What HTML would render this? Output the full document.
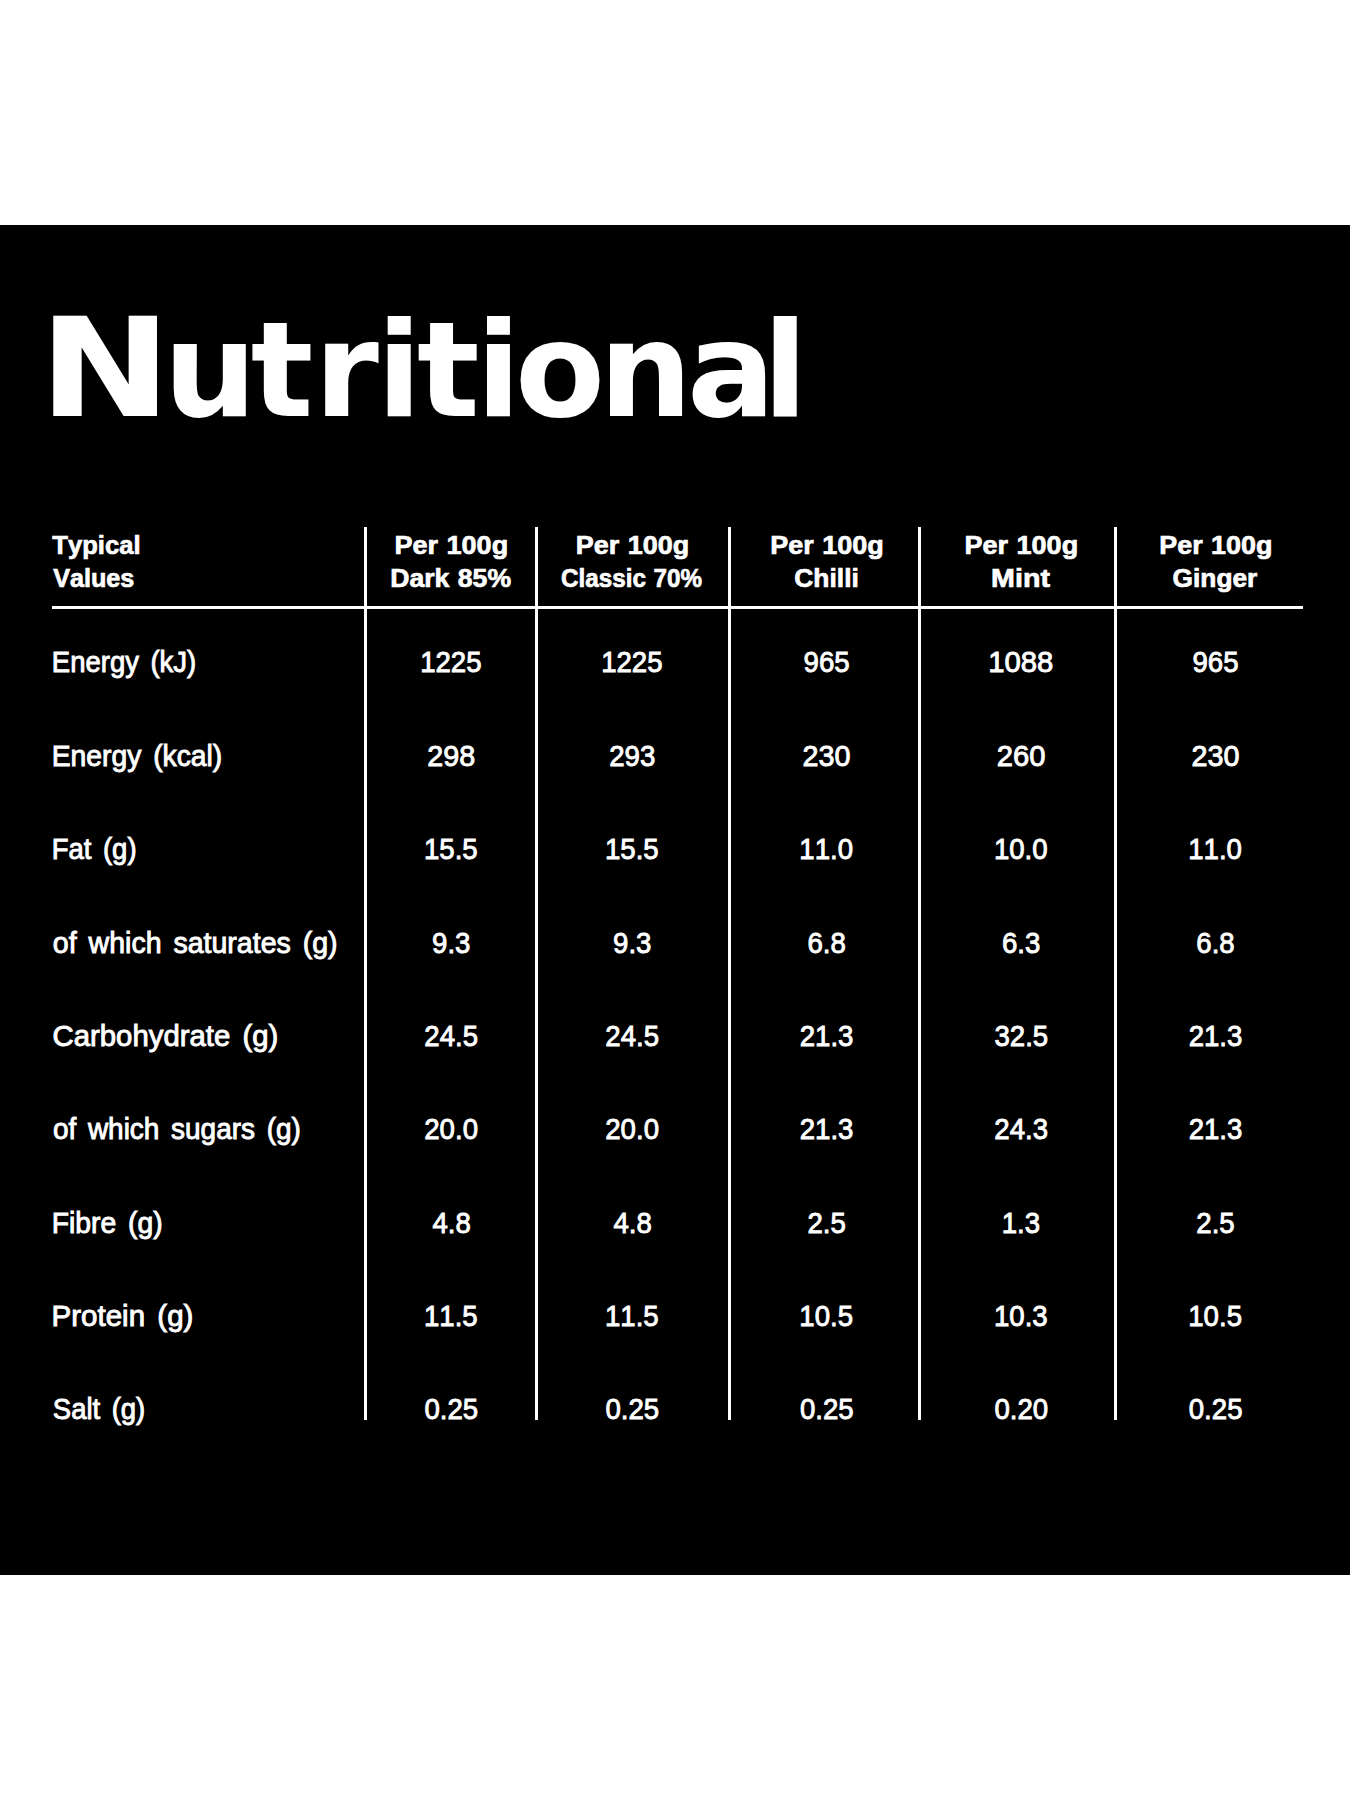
<!DOCTYPE html>
<html lang="en">
<head>
<meta charset="utf-8">
<title>Nutritional</title>
<style>
html,body{margin:0;padding:0;background:#fff;}
body{width:1350px;height:1800px;overflow:hidden;font-family:"Liberation Sans",sans-serif;}
svg{display:block;position:absolute;left:0;top:0;}
text{fill:#fff;font-kerning:none;white-space:pre;}
.t{font-family:"DejaVu Sans","Liberation Sans",sans-serif;font-weight:bold;font-size:131.0px;}
.h{font-family:"Liberation Sans",sans-serif;font-weight:bold;font-size:26.5px;stroke:#fff;stroke-width:0.7px;word-spacing:1.0px;}
.b{font-family:"Liberation Sans",sans-serif;font-weight:normal;font-size:28.6px;stroke:#fff;stroke-width:0.9px;word-spacing:4.0px;}
.n{font-family:"Liberation Sans",sans-serif;font-weight:normal;font-size:29.5px;stroke:#fff;stroke-width:0.9px;}
</style>
</head>
<body>
<svg width="1350" height="1800" viewBox="0 0 1350 1800">
<rect x="0" y="0" width="1350" height="1800" fill="#fff"/>
<rect x="0" y="225" width="1350" height="1350" fill="#000"/>
<g fill="#fff" shape-rendering="crispEdges">
<rect x="364" y="527" width="3" height="893"/>
<rect x="535" y="527" width="3" height="893"/>
<rect x="728" y="527" width="3" height="893"/>
<rect x="918" y="527" width="3" height="893"/>
<rect x="1114" y="527" width="3" height="893"/>
<rect x="52" y="606" width="1251" height="3"/>
</g>
<text class="t" y="416"><tspan x="38.7" font-size="137" textLength="132.8" lengthAdjust="spacingAndGlyphs">N</tspan><tspan x="163.4 250.8 314.2 376.7 417.1 476.0 515.0 598.9 687.0 762.7">utritional</tspan></text>
<text class="h" x="52.36" y="553.65" textLength="88.20" lengthAdjust="spacingAndGlyphs">Typical</text>
<text class="h" x="53.18" y="586.65" textLength="81.10" lengthAdjust="spacingAndGlyphs">Values</text>
<text class="h" x="394.54" y="553.65" textLength="113.61" lengthAdjust="spacingAndGlyphs">Per 100g</text>
<text class="h" x="390.27" y="586.65" textLength="120.78" lengthAdjust="spacingAndGlyphs">Dark 85%</text>
<text class="h" x="575.85" y="553.65" textLength="113.30" lengthAdjust="spacingAndGlyphs">Per 100g</text>
<text class="h" x="561.06" y="586.65" textLength="140.93" lengthAdjust="spacingAndGlyphs">Classic 70%</text>
<text class="h" x="770.25" y="553.65" textLength="113.51" lengthAdjust="spacingAndGlyphs">Per 100g</text>
<text class="h" x="794.27" y="586.65" textLength="64.55" lengthAdjust="spacingAndGlyphs">Chilli</text>
<text class="h" x="964.54" y="553.65" textLength="113.61" lengthAdjust="spacingAndGlyphs">Per 100g</text>
<text class="h" x="991.13" y="586.65" textLength="58.87" lengthAdjust="spacingAndGlyphs">Mint</text>
<text class="h" x="1159.25" y="553.65" textLength="113.20" lengthAdjust="spacingAndGlyphs">Per 100g</text>
<text class="h" x="1172.57" y="586.65" textLength="84.78" lengthAdjust="spacingAndGlyphs">Ginger</text>
<text class="b" x="51.79" y="672.45" textLength="144.46" lengthAdjust="spacingAndGlyphs">Energy (kJ)</text>
<text class="b" x="51.73" y="765.81" textLength="170.57" lengthAdjust="spacingAndGlyphs">Energy (kcal)</text>
<text class="b" x="51.80" y="859.17" textLength="84.76" lengthAdjust="spacingAndGlyphs">Fat (g)</text>
<text class="b" x="52.85" y="952.53" textLength="284.77" lengthAdjust="spacingAndGlyphs">of which saturates (g)</text>
<text class="b" x="52.56" y="1045.89" textLength="225.81" lengthAdjust="spacingAndGlyphs">Carbohydrate (g)</text>
<text class="b" x="52.88" y="1139.25" textLength="248.01" lengthAdjust="spacingAndGlyphs">of which sugars (g)</text>
<text class="b" x="51.73" y="1232.61" textLength="110.98" lengthAdjust="spacingAndGlyphs">Fibre (g)</text>
<text class="b" x="51.63" y="1325.97" textLength="141.75" lengthAdjust="spacingAndGlyphs">Protein (g)</text>
<text class="b" x="52.80" y="1419.33" textLength="92.45" lengthAdjust="spacingAndGlyphs">Salt (g)</text>
<text class="n" x="420.13" y="672.45" textLength="61.40" lengthAdjust="spacingAndGlyphs">1225</text>
<text class="n" x="601.13" y="672.45" textLength="61.40" lengthAdjust="spacingAndGlyphs">1225</text>
<text class="n" x="803.61" y="672.45" textLength="46.05" lengthAdjust="spacingAndGlyphs">965</text>
<text class="n" x="988.22" y="672.45" textLength="65.21" lengthAdjust="spacingAndGlyphs">1088</text>
<text class="n" x="1192.51" y="672.45" textLength="46.05" lengthAdjust="spacingAndGlyphs">965</text>
<text class="n" x="427.20" y="765.81" textLength="48.00" lengthAdjust="spacingAndGlyphs">298</text>
<text class="n" x="609.19" y="765.81" textLength="46.05" lengthAdjust="spacingAndGlyphs">293</text>
<text class="n" x="802.55" y="765.81" textLength="47.97" lengthAdjust="spacingAndGlyphs">230</text>
<text class="n" x="996.78" y="765.81" textLength="48.71" lengthAdjust="spacingAndGlyphs">260</text>
<text class="n" x="1191.45" y="765.81" textLength="47.97" lengthAdjust="spacingAndGlyphs">230</text>
<text class="n" x="423.97" y="859.17" textLength="53.72" lengthAdjust="spacingAndGlyphs">15.5</text>
<text class="n" x="604.97" y="859.17" textLength="53.72" lengthAdjust="spacingAndGlyphs">15.5</text>
<text class="n" x="799.33" y="859.17" textLength="53.72" lengthAdjust="spacingAndGlyphs">11.0</text>
<text class="n" x="993.93" y="859.17" textLength="53.72" lengthAdjust="spacingAndGlyphs">10.0</text>
<text class="n" x="1188.23" y="859.17" textLength="53.72" lengthAdjust="spacingAndGlyphs">11.0</text>
<text class="n" x="432.07" y="952.53" textLength="38.37" lengthAdjust="spacingAndGlyphs">9.3</text>
<text class="n" x="613.07" y="952.53" textLength="38.37" lengthAdjust="spacingAndGlyphs">9.3</text>
<text class="n" x="807.41" y="952.53" textLength="38.37" lengthAdjust="spacingAndGlyphs">6.8</text>
<text class="n" x="1002.02" y="952.53" textLength="38.37" lengthAdjust="spacingAndGlyphs">6.3</text>
<text class="n" x="1196.31" y="952.53" textLength="38.37" lengthAdjust="spacingAndGlyphs">6.8</text>
<text class="n" x="424.32" y="1045.89" textLength="53.72" lengthAdjust="spacingAndGlyphs">24.5</text>
<text class="n" x="605.32" y="1045.89" textLength="53.72" lengthAdjust="spacingAndGlyphs">24.5</text>
<text class="n" x="799.75" y="1045.89" textLength="53.72" lengthAdjust="spacingAndGlyphs">21.3</text>
<text class="n" x="994.49" y="1045.89" textLength="53.72" lengthAdjust="spacingAndGlyphs">32.5</text>
<text class="n" x="1188.65" y="1045.89" textLength="53.72" lengthAdjust="spacingAndGlyphs">21.3</text>
<text class="n" x="424.28" y="1139.25" textLength="53.72" lengthAdjust="spacingAndGlyphs">20.0</text>
<text class="n" x="605.28" y="1139.25" textLength="53.72" lengthAdjust="spacingAndGlyphs">20.0</text>
<text class="n" x="799.75" y="1139.25" textLength="53.72" lengthAdjust="spacingAndGlyphs">21.3</text>
<text class="n" x="994.35" y="1139.25" textLength="53.72" lengthAdjust="spacingAndGlyphs">24.3</text>
<text class="n" x="1188.65" y="1139.25" textLength="53.72" lengthAdjust="spacingAndGlyphs">21.3</text>
<text class="n" x="432.40" y="1232.61" textLength="38.37" lengthAdjust="spacingAndGlyphs">4.8</text>
<text class="n" x="613.40" y="1232.61" textLength="38.37" lengthAdjust="spacingAndGlyphs">4.8</text>
<text class="n" x="807.40" y="1232.61" textLength="38.37" lengthAdjust="spacingAndGlyphs">2.5</text>
<text class="n" x="1001.67" y="1232.61" textLength="38.37" lengthAdjust="spacingAndGlyphs">1.3</text>
<text class="n" x="1196.30" y="1232.61" textLength="38.37" lengthAdjust="spacingAndGlyphs">2.5</text>
<text class="n" x="423.97" y="1325.97" textLength="53.72" lengthAdjust="spacingAndGlyphs">11.5</text>
<text class="n" x="604.97" y="1325.97" textLength="53.72" lengthAdjust="spacingAndGlyphs">11.5</text>
<text class="n" x="799.37" y="1325.97" textLength="53.72" lengthAdjust="spacingAndGlyphs">10.5</text>
<text class="n" x="993.99" y="1325.97" textLength="53.72" lengthAdjust="spacingAndGlyphs">10.3</text>
<text class="n" x="1188.27" y="1325.97" textLength="53.72" lengthAdjust="spacingAndGlyphs">10.5</text>
<text class="n" x="424.48" y="1419.33" textLength="53.72" lengthAdjust="spacingAndGlyphs">0.25</text>
<text class="n" x="605.48" y="1419.33" textLength="53.72" lengthAdjust="spacingAndGlyphs">0.25</text>
<text class="n" x="799.88" y="1419.33" textLength="53.72" lengthAdjust="spacingAndGlyphs">0.25</text>
<text class="n" x="994.44" y="1419.33" textLength="53.72" lengthAdjust="spacingAndGlyphs">0.20</text>
<text class="n" x="1188.78" y="1419.33" textLength="53.72" lengthAdjust="spacingAndGlyphs">0.25</text>
</svg>
</body>
</html>
